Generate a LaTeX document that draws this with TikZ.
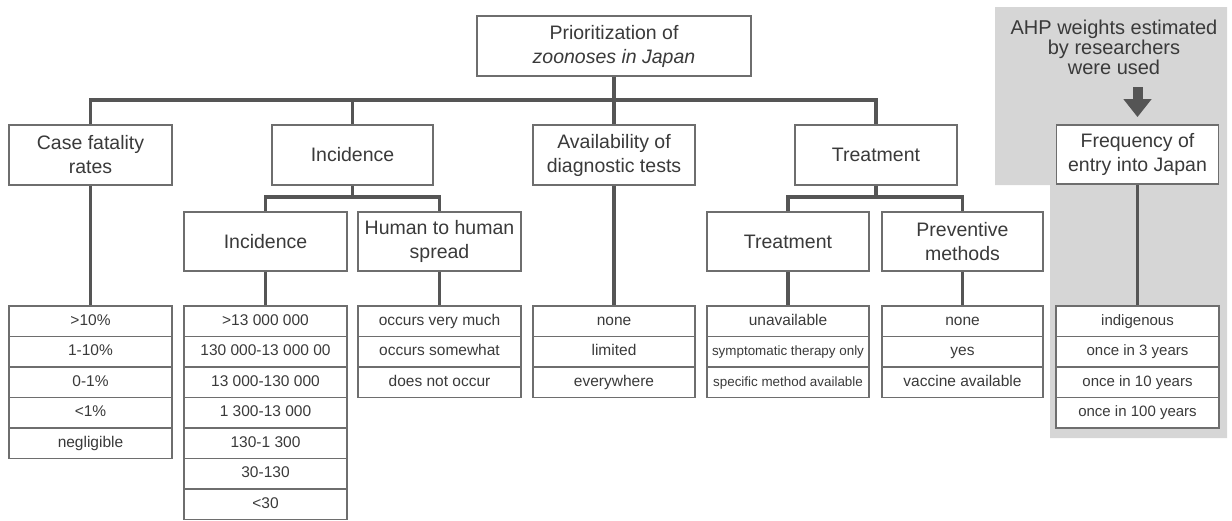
\documentclass[tikz,border=0pt]{standalone}
\usepackage{fontspec}
\setmainfont{Liberation Sans}
\usetikzlibrary{arrows.meta}
\definecolor{txt}{HTML}{3A3A3A}
\definecolor{brd}{HTML}{6E6E6E}
\definecolor{cn}{HTML}{555555}
\definecolor{panelgrey}{HTML}{D6D6D6}
\tikzset{
  box/.style={draw=brd, line width=1.8pt, fill=white, minimum height=60pt, inner sep=0pt, align=center, text=txt, font=\fontsize{19.5}{24}\selectfont},
  cell/.style={draw=brd, line width=1.8pt, fill=white, minimum height=30.5pt, inner sep=0pt, text height=11pt, text depth=3pt, text=txt, font=\fontsize{15.5}{18}\selectfont},
  conn/.style={draw=cn, line width=3.5pt},
}
\begin{document}
\begin{tikzpicture}[x=1pt,y=-1pt]
\useasboundingbox (0,0) rectangle (1232,520);
% grey panel
\fill[panelgrey] (995,7) -- (1227,7) -- (1227,438) -- (1050,438) -- (1050,185) -- (995,185) -- cycle;
\node[text=txt, align=center, font=\fontsize{20}{20}\selectfont] (ahp) at (1114,47) {AHP weights estimated\\by researchers\\were used};
% boxes
\node[box, minimum width=274pt] (root) at (614,46) {Prioritization of\\\textit{zoonoses in Japan}};
\node[box, minimum width=163pt] (cfr) at (90.5,155) {Case fatality\\rates};
\node[box, minimum width=161pt] (inc) at (352.5,155) {Incidence};
\node[box, minimum width=162pt] (avail) at (614,155) {Availability of\\diagnostic tests};
\node[box, minimum width=162pt] (treat) at (876,155) {Treatment};
\node[box, minimum width=162pt, minimum height=59pt] (freq) at (1137.5,154.5) {Frequency of\\entry into Japan};
\node[box, minimum width=163pt, minimum height=59pt] (inc2) at (265.5,241.5) {Incidence};
\node[box, minimum width=163pt, minimum height=59pt] (h2h) at (439.5,241.5) {Human to human\\spread};
\node[box, minimum width=162pt, minimum height=59pt] (treat2) at (788,241.5) {Treatment};
\node[box, minimum width=161pt, minimum height=59pt] (prev) at (962.5,241.5) {Preventive\\methods};
% tables
\foreach \t [count=\i] in {>10\%,1-10\%,0-1\%,<1\%,negligible}
  \node[cell, minimum width=163pt] (cfr-\i) at (90.5,{306+30.5*(\i-0.5)}) {\t};
\foreach \t [count=\i] in {>13 000 000,130 000-13 000 00,13 000-130 000,1 300-13 000,130-1 300,30-130,<30}
  \node[cell, minimum width=163pt] (inc-\i) at (265.5,{306+30.5*(\i-0.5)}) {\t};
\foreach \t [count=\i] in {occurs very much,occurs somewhat,does not occur}
  \node[cell, minimum width=163pt] (h2h-\i) at (439.5,{306+30.5*(\i-0.5)}) {\t};
\foreach \t [count=\i] in {none,limited,everywhere}
  \node[cell, minimum width=162pt] (avail-\i) at (614,{306+30.5*(\i-0.5)}) {\t};
\node[cell, minimum width=162pt] (treat-1) at (788,321.25) {unavailable};
\node[cell, minimum width=162pt, font=\fontsize{13.4}{16}\selectfont] (treat-2) at (788,351.75) {symptomatic therapy only};
\node[cell, minimum width=162pt, font=\fontsize{13.4}{16}\selectfont] (treat-3) at (788,382.25) {specific method available};
\foreach \t [count=\i] in {none,yes,vaccine available}
  \node[cell, minimum width=161pt] (prev-\i) at (962.5,{306+30.5*(\i-0.5)}) {\t};
\foreach \t [count=\i] in {indigenous,once in 3 years,once in 10 years,once in 100 years}
  \node[cell, minimum width=163pt, font=\fontsize{15}{18}\selectfont] (freq-\i) at (1137.5,{306+30.5*(\i-0.5)}) {\t};
% connectors
\coordinate (bus) at (0,100);
\coordinate (subbus) at (0,197);
\draw[conn] (cfr.north) |- (treat.north |- bus) -- (treat.north);
\draw[conn] (inc.north) -- (inc.north |- bus);
\draw[conn] (root.south) -- (avail.north);
\draw[conn] (inc2.north) |- (h2h.north |- subbus) -- (h2h.north);
\draw[conn] (inc.south) -- (inc.south |- subbus);
\draw[conn] (treat2.north) |- (prev.north |- subbus) -- (prev.north);
\draw[conn] (treat.south) -- (treat.south |- subbus);
\draw[conn] (cfr.south) -- (cfr-1.north);
\draw[conn] (inc2.south) -- (inc-1.north);
\draw[conn] (h2h.south) -- (h2h-1.north);
\draw[conn] (avail.south) -- (avail-1.north);
\draw[conn] (treat2.south) -- (treat-1.north);
\draw[conn] (prev.south) -- (prev-1.north);
\draw[conn] (freq.south) -- (freq-1.north);
% arrow
\coordinate (atop) at (1137.5,87);
\draw[draw=cn, line width=10pt, -{Triangle[width=27pt,length=18pt]}, shorten >=7pt] (atop) -- (freq.north);
\end{tikzpicture}
\end{document}
